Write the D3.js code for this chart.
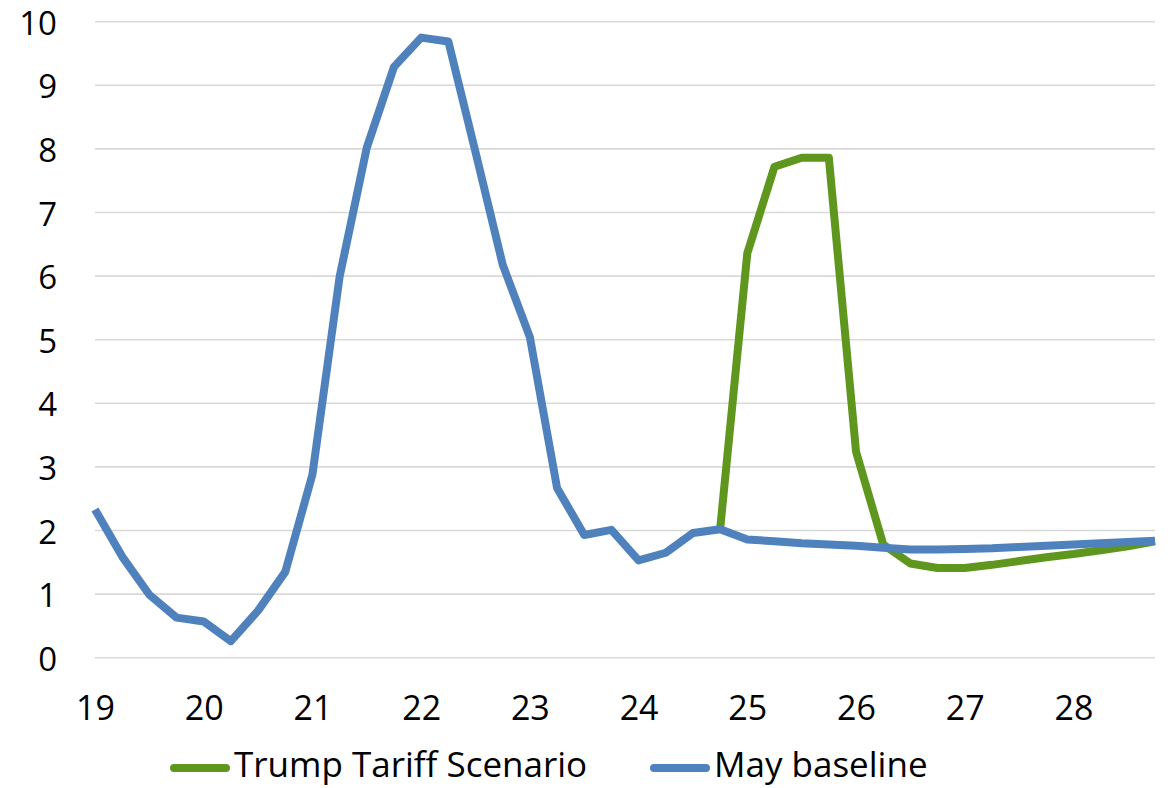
<!DOCTYPE html>
<html>
<head>
<meta charset="utf-8">
<script src="https://cdn.jsdelivr.net/npm/d3@7"></script>
<style>
  html, body { margin: 0; padding: 0; background: #ffffff; }
  svg text { font-family: "Open Sans", "Noto Sans", sans-serif; fill: #000; }
</style>
</head>
<body>
<svg id="chart" width="1170" height="788"></svg>
<script>
// Quarterly periods, 2019 Q1 to 2028 Q4
const quarters = d3.range(2019, 2029).flatMap(y => [1, 2, 3, 4].map(q => `${y}Q${q}`));

// Year labels shown under the first quarter of each year
const yearLabels = ["19", "20", "21", "22", "23", "24", "25", "26", "27", "28"];

// May baseline (all 40 quarters)
const baseline = [
  2.33, 1.59, 0.99, 0.63, 0.57, 0.26, 0.74, 1.35,
  2.88, 5.99, 8.02, 9.29, 9.75, 9.69, 7.95, 6.18,
  5.04, 2.67, 1.93, 2.01, 1.53, 1.65, 1.96, 2.02,
  1.86, 1.83, 1.80, 1.78, 1.76, 1.73, 1.70, 1.70,
  1.71, 1.72, 1.74, 1.76, 1.78, 1.80, 1.82, 1.84
];

// Trump tariff scenario, starting from 2024 Q4
const tariffStart = 23;
const tariff = [
  2.02, 6.36, 7.72, 7.86, 7.86, 3.24, 1.78, 1.48,
  1.41, 1.41, 1.46, 1.52, 1.58, 1.63, 1.69, 1.75, 1.83
];

const yTicks = [0, 1, 2, 3, 4, 5, 6, 7, 8, 9, 10];

const seriesNames = ["Trump Tariff Scenario", "May baseline"];
const colors = ["#5f961d", "#4f81bd"];

const svg = d3.select("#chart");
const plot = { left: 95, right: 1155, top: 21.7, bottom: 657.7 };

const x = d3.scalePoint().domain(quarters).range([plot.left, plot.right]);
const y = d3.scaleLinear().domain([0, 10]).range([plot.bottom, plot.top]);

// Horizontal gridlines
svg.append("g")
  .selectAll("line")
  .data(yTicks)
  .join("line")
  .attr("x1", plot.left).attr("x2", plot.right)
  .attr("y1", d => y(d)).attr("y2", d => y(d))
  .attr("stroke", "#d9d9d9")
  .attr("stroke-width", 1.6);

// Y axis labels
const yAxis = d3.axisLeft(y).tickValues(yTicks).tickSize(0).tickPadding(0).tickFormat(d3.format("d"));
svg.append("g")
  .attr("transform", "translate(57,0)")
  .call(yAxis)
  .call(g => g.select(".domain").remove())
  .selectAll("text")
  .attr("font-size", 33)
  .attr("font-family", "'Open Sans', sans-serif")
  .attr("fill", "#000")
  .attr("dy", "0.38em");

// X axis labels, one per year
const xAxis = d3.axisBottom(x)
  .tickValues(quarters.filter((q, i) => i % 4 === 0))
  .tickSize(0)
  .tickPadding(0)
  .tickFormat(q => yearLabels[quarters.indexOf(q) / 4]);
svg.append("g")
  .attr("transform", "translate(0,696)")
  .call(xAxis)
  .call(g => g.select(".domain").remove())
  .selectAll("text")
  .attr("font-size", 34)
  .attr("font-family", "'Open Sans', sans-serif")
  .attr("fill", "#000")
  .attr("dy", "0.71em");

const line = d3.line()
  .x(d => x(d.q))
  .y(d => y(d.v));

const tariffPts = tariff.map((v, i) => ({ q: quarters[tariffStart + i], v }));
const basePts = baseline.map((v, i) => ({ q: quarters[i], v }));

svg.append("path")
  .datum(tariffPts)
  .attr("d", line)
  .attr("fill", "none")
  .attr("stroke", colors[0])
  .attr("stroke-width", 8)
  .attr("stroke-linejoin", "round");

svg.append("path")
  .datum(basePts)
  .attr("d", line)
  .attr("fill", "none")
  .attr("stroke", colors[1])
  .attr("stroke-width", 8)
  .attr("stroke-linejoin", "round");

// Legend
const legendItems = [
  { name: seriesNames[0], color: colors[0], x: 170 },
  { name: seriesNames[1], color: colors[1], x: 650 }
];
const lg = svg.append("g").selectAll("g").data(legendItems).join("g")
  .attr("transform", d => `translate(${d.x},768)`);
lg.append("line")
  .attr("x1", 4).attr("x2", 56)
  .attr("y1", 0).attr("y2", 0)
  .attr("stroke", d => d.color)
  .attr("stroke-width", 8)
  .attr("stroke-linecap", "round");
lg.append("text")
  .attr("x", 64)
  .attr("y", 9)
  .attr("font-size", 35)
  .text(d => d.name);
</script>
</body>
</html>
